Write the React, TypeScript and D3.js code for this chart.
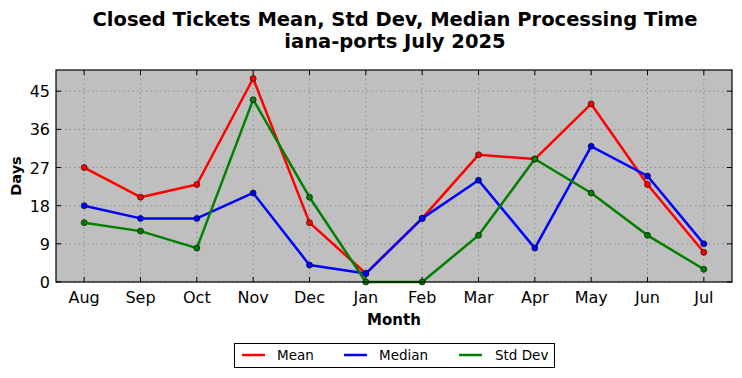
import React from "react";
import * as d3 from "d3";

const months = ["Aug", "Sep", "Oct", "Nov", "Dec", "Jan", "Feb", "Mar", "Apr", "May", "Jun", "Jul"];
const meanValues = [27, 20, 23, 48, 14, 2, 15, 30, 29, 42, 23, 7];
const medianValues = [18, 15, 15, 21, 4, 2, 15, 24, 8, 32, 25, 9];
const stdValues = [14, 12, 8, 43, 20, 0, 0, 11, 29, 21, 11, 3];
const yTicks = [0, 9, 18, 27, 36, 45];

const seriesList = [
  { name: "Mean", values: meanValues, color: "#ff0000" },
  { name: "Median", values: medianValues, color: "#0000ff" },
  { name: "Std Dev", values: stdValues, color: "#008000" },
];

const W = 742, H = 378;
const L = 56, R = 732, T = 70, B = 282;
const font = "DejaVu Sans, sans-serif";

export default function App() {
  const x = d3.scaleLinear().domain([-0.5, months.length - 0.5]).range([L, R]);
  const y = d3.scaleLinear().domain([0, 50]).range([B, T]);
  const line = d3.line<number>().x((_, i) => x(i)).y((d) => y(d));
  const legendItems = [
    { name: "Mean", color: "#ff0000", lx: 242, tx: 277 },
    { name: "Median", color: "#0000ff", lx: 344, tx: 379 },
    { name: "Std Dev", color: "#008000", lx: 459, tx: 495 },
  ];
  return (
    <svg width={W} height={H} style={{ position: "absolute", left: 0, top: 0 }} fontFamily={font}>
      <rect x={0} y={0} width={W} height={H} fill="#ffffff" />
      <text x={395} y={25.5} textAnchor="middle" fontSize={19.5} fontWeight="bold">
        Closed Tickets Mean, Std Dev, Median Processing Time
      </text>
      <text x={395} y={47.5} textAnchor="middle" fontSize={19.5} fontWeight="bold">
        iana-ports July 2025
      </text>
      <rect x={L} y={T} width={R - L} height={B - T} fill="#bfbfbf" />
      <defs>
        <clipPath id="plotclip">
          <rect x={L} y={T - 5} width={R - L} height={B - T + 10} />
        </clipPath>
      </defs>
      {months.map((m, i) => (
        <line key={"gx" + m} x1={x(i)} x2={x(i)} y1={T} y2={B} stroke="#808080" strokeWidth={0.8} strokeDasharray="1.5,3" />
      ))}
      {yTicks.map((t) => (
        <line key={"gy" + t} x1={L} x2={R} y1={y(t)} y2={y(t)} stroke="#808080" strokeWidth={0.8} strokeDasharray="1.5,3" />
      ))}
      {months.map((m, i) => (
        <g key={"tx" + m}>
          <line x1={x(i)} x2={x(i)} y1={B} y2={B - 5} stroke="#000" strokeWidth={1} />
          <line x1={x(i)} x2={x(i)} y1={T} y2={T + 5} stroke="#000" strokeWidth={1} />
          <text x={x(i)} y={B + 21} textAnchor="middle" fontSize={16}>{m}</text>
        </g>
      ))}
      {yTicks.map((t) => (
        <g key={"ty" + t}>
          <line x1={L} x2={L + 5} y1={y(t)} y2={y(t)} stroke="#000" strokeWidth={1} />
          <line x1={R} x2={R - 5} y1={y(t)} y2={y(t)} stroke="#000" strokeWidth={1} />
          <text x={L - 6} y={y(t) + 6} textAnchor="end" fontSize={16}>{t}</text>
        </g>
      ))}
      <g clipPath="url(#plotclip)">
        {seriesList.map((s) => (
          <g key={s.name}>
            <path d={line(s.values) || ""} fill="none" stroke={s.color} strokeWidth={2.5} strokeLinejoin="round" />
            {s.values.map((v, i) => (
              <circle key={i} cx={x(i)} cy={y(v)} r={3} fill={s.color} stroke="#000" strokeWidth={0.6} />
            ))}
          </g>
        ))}
      </g>
      <rect x={L} y={T} width={R - L} height={B - T} fill="none" stroke="#000" strokeWidth={1.2} />
      <text x={394} y={325} textAnchor="middle" fontSize={15} fontWeight="bold">Month</text>
      <text transform={`translate(21,176) rotate(-90)`} textAnchor="middle" fontSize={14.5} fontWeight="bold">Days</text>
      <rect x={234.5} y={343.5} width={320} height={24} fill="#fff" stroke="#000" strokeWidth={1} />
      {legendItems.map((it) => (
        <g key={it.name}>
          <line x1={it.lx} x2={it.lx + 23} y1={355} y2={355} stroke={it.color} strokeWidth={2.5} />
          <text x={it.tx} y={360} fontSize={13.5}>{it.name}</text>
        </g>
      ))}
    </svg>
  );
}
